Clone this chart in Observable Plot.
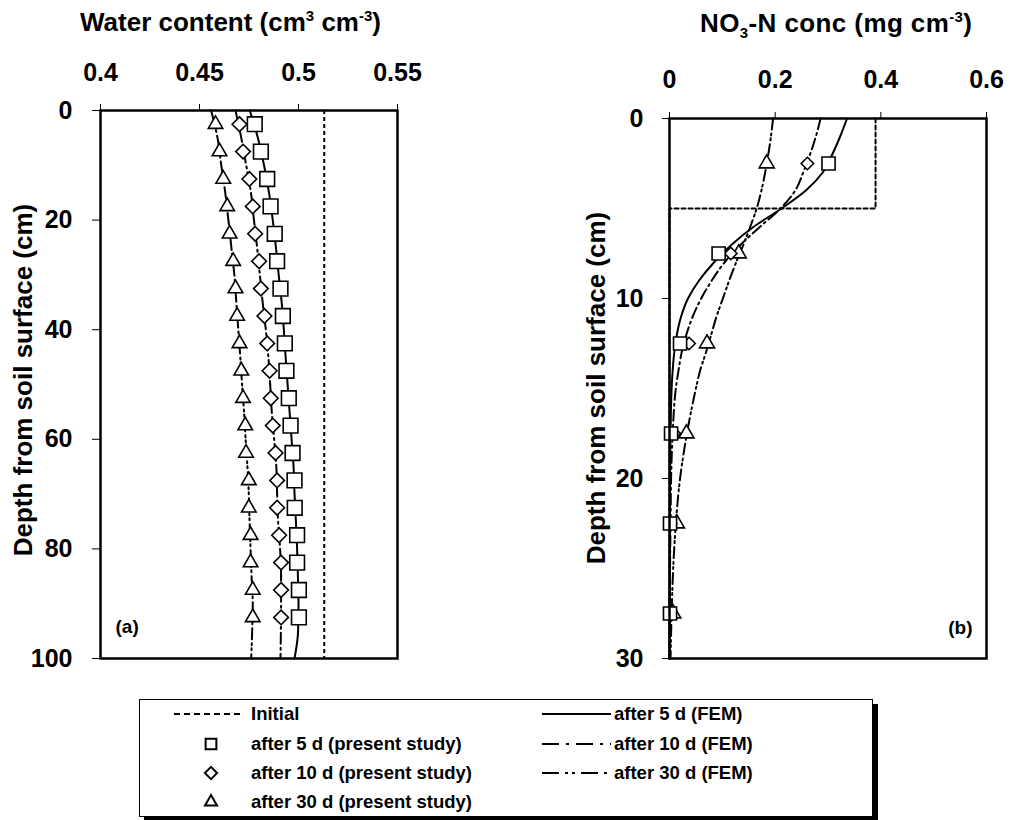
<!DOCTYPE html>
<html>
<head>
<meta charset="utf-8">
<script src="https://cdn.jsdelivr.net/npm/d3@7"></script>
<script src="https://cdn.jsdelivr.net/npm/@observablehq/plot@0.6"></script>
<style>
  body { margin: 0; background: #fff; }
  #wrap { position: relative; width: 1011px; height: 820px; background: #fff; font-family: "Liberation Sans", Arial, sans-serif; font-weight: bold; color: #000; overflow: hidden; }
  .abs { position: absolute; white-space: nowrap; line-height: 1; }
  .title { font-size: 26px; }
  .title sup, .title sub { font-size: 15px; line-height: 0; }
  .ytitle { font-size: 26px; transform: translate(-50%, -50%) rotate(-90deg); }
  #legend { position: absolute; left: 139px; top: 699px; width: 732px; height: 116px; border: 1px solid #000; box-shadow: 5px 5px 0 #000; background: #fff; font-size: 18.5px; }
  #legend .lt { position: absolute; transform: translateY(-50%); white-space: nowrap; line-height: 1; }
  #legend svg { position: absolute; overflow: visible; }
</style>
</head>
<body>
<div id="wrap">
  <div id="plotA" class="abs" style="left:0; top:0;"></div>
  <div id="plotB" class="abs" style="left:560px; top:0;"></div>
  <div class="abs title" style="left:80px; top:9px;">Water content (cm<sup>3</sup> cm<sup>-3</sup>)</div>
  <div class="abs title" style="left:700px; top:10px; letter-spacing:0.4px;">NO<sub>3</sub>-N conc (mg cm<sup>-3</sup>)</div>
  <div class="abs ytitle" style="left:23px; top:380px;">Depth from soil surface (cm)</div>
  <div class="abs ytitle" style="left:596px; top:388px;">Depth from soil surface (cm)</div>
  <div id="legend"></div>
</div>
<script>
// ---------- Panel (a): water content ----------
const waterTicks = [0.4, 0.45, 0.5, 0.55];
const depthTicksA = [0, 20, 40, 60, 80, 100];
const initWater = 0.513;
const depthA = [2.5, 7.5, 12.5, 17.5, 22.5, 27.5, 32.5, 37.5, 42.5, 47.5, 52.5, 57.5, 62.5, 67.5, 72.5, 77.5, 82.5, 87.5, 92.5];
const sq5A  = [0.4779, 0.4810, 0.4842, 0.4859, 0.4880, 0.4892, 0.4909, 0.4921, 0.4931, 0.4939, 0.4951, 0.4960, 0.4970, 0.4980, 0.4981, 0.4993, 0.4993, 0.5002, 0.5002];
const dia10A = [0.4702, 0.4720, 0.4752, 0.4769, 0.4781, 0.4801, 0.4810, 0.4828, 0.4842, 0.4854, 0.4860, 0.4870, 0.4884, 0.4892, 0.4892, 0.4902, 0.4912, 0.4912, 0.4912];
const tri30A = [0.4581, 0.4601, 0.4620, 0.4640, 0.4652, 0.4670, 0.4682, 0.4690, 0.4702, 0.4711, 0.4720, 0.4731, 0.4735, 0.4749, 0.4749, 0.4758, 0.4758, 0.4769, 0.4769];
const femDepthA = [0, 5, 10, 15, 20, 25, 30, 35, 40, 45, 50, 55, 60, 65, 70, 75, 80, 85, 90, 95, 100];
const fem5A  = [0.4754, 0.4795, 0.4826, 0.4851, 0.4870, 0.4886, 0.4900, 0.4915, 0.4926, 0.4935, 0.4945, 0.4955, 0.4965, 0.4975, 0.4980, 0.4987, 0.4993, 0.4997, 0.5000, 0.4998, 0.4980];
const fem10A = [0.4682, 0.4711, 0.4736, 0.4760, 0.4775, 0.4791, 0.4805, 0.4819, 0.4835, 0.4848, 0.4857, 0.4865, 0.4877, 0.4888, 0.4892, 0.4897, 0.4907, 0.4912, 0.4912, 0.4911, 0.4909];
const fem30A = [0.4559, 0.4591, 0.4610, 0.4630, 0.4646, 0.4661, 0.4676, 0.4686, 0.4696, 0.4706, 0.4715, 0.4725, 0.4733, 0.4742, 0.4749, 0.4753, 0.4758, 0.4763, 0.4769, 0.4766, 0.4761];

// ---------- Panel (b): NO3-N concentration ----------
const concTicks = [0, 0.2, 0.4, 0.6];
const depthTicksB = [0, 10, 20, 30];
const initConc = [0.39, 0.39, 0, 0];
const initDepthB = [0, 5, 5, 30];
const depthB = [2.5, 7.5, 12.5, 17.5, 22.5, 27.5];
const sq5B   = [0.301, 0.093, 0.020, 0.003, 0.001, 0.001];
const dia10B = [0.261, 0.116, 0.037, 0.009, 0.002, 0.001];
const tri30B = [0.184, 0.131, 0.071, 0.032, 0.014, 0.007];
const femDepthB = [0, 1, 2, 3, 4, 5, 6, 7, 8, 9, 10, 11, 12, 13, 14, 15, 17.5, 20, 22.5, 25, 27.5, 30];
const fem5B  = [0.336, 0.323, 0.308, 0.290, 0.258, 0.212, 0.160, 0.118, 0.084, 0.056, 0.035, 0.022, 0.014, 0.009, 0.006, 0.004, 0.002, 0.001, 0.001, 0.0005, 0.0003, 0];
const fem10B = [0.286, 0.277, 0.266, 0.253, 0.238, 0.210, 0.172, 0.135, 0.104, 0.080, 0.060, 0.044, 0.032, 0.023, 0.017, 0.012, 0.006, 0.003, 0.002, 0.001, 0.0005, 0];
const fem30B = [0.196, 0.192, 0.187, 0.181, 0.174, 0.165, 0.153, 0.140, 0.126, 0.113, 0.101, 0.089, 0.079, 0.069, 0.058, 0.050, 0.033, 0.020, 0.012, 0.007, 0.004, 0.002];

// legend entries
const legendLeft = ["Initial", "after 5 d (present study)", "after 10 d (present study)", "after 30 d (present study)"];
const legendRight = ["after 5 d (FEM)", "after 10 d (FEM)", "after 30 d (FEM)"];

const DASH_INIT = "4,3";
const DASH_10 = "11,4,2,4";
const DASH_30 = "11,4,2,3,2,4";
const FONT = "'Liberation Sans', Arial, sans-serif";

const pts = (ds, vs) => ds.map((d, i) => ({d, v: vs[i]}));

function markerMarks(depths, sq, dia, tri, rs) {
  return [
    Plot.dot(pts(depths, tri), {x: "v", y: "d", symbol: "triangle", r: rs[2], fill: "white", stroke: "black", strokeWidth: 1.6}),
    Plot.dot(pts(depths, dia), {x: "v", y: "d", symbol: "diamond2", r: rs[1], fill: "white", stroke: "black", strokeWidth: 1.6}),
    Plot.dot(pts(depths, sq), {x: "v", y: "d", symbol: "square", r: rs[0], fill: "white", stroke: "black", strokeWidth: 1.6})
  ];
}

const plotA = Plot.plot({
  width: 440, height: 680,
  marginLeft: 100, marginRight: 43, marginTop: 110, marginBottom: 22,
  style: {fontFamily: FONT, fontWeight: "bold", fontSize: "25px", background: "transparent"},
  x: {domain: [0.4, 0.55]},
  y: {domain: [0, 100], reverse: true},
  marks: [
    Plot.axisX({anchor: "top", ticks: waterTicks, tickFormat: d => String(d), tickSize: 7, tickPadding: 23, fontSize: 25, fontWeight: "bold", label: null}),
    Plot.axisY({anchor: "left", ticks: depthTicksA, tickFormat: d => String(d), tickSize: 8, tickPadding: 20, fontSize: 25, fontWeight: "bold", label: null}),
    Plot.ruleX([initWater], {y1: 0, y2: 100, stroke: "black", strokeWidth: 2, strokeDasharray: DASH_INIT}),
    Plot.line(pts(femDepthA, fem5A), {x: "v", y: "d", curve: "monotone-y", stroke: "black", strokeWidth: 2}),
    Plot.line(pts(femDepthA, fem10A), {x: "v", y: "d", curve: "monotone-y", stroke: "black", strokeWidth: 2, strokeDasharray: DASH_10}),
    Plot.line(pts(femDepthA, fem30A), {x: "v", y: "d", curve: "monotone-y", stroke: "black", strokeWidth: 2, strokeDasharray: DASH_30}),
    ...markerMarks(depthA, sq5A, dia10A, tri30A, [8.3, 6.6, 5.4]),
    Plot.text(["(a)"], {frameAnchor: "bottom-left", dx: 15, dy: -26, fontSize: 19, fontWeight: "bold", textAnchor: "start"}),
    Plot.frame({stroke: "black", strokeWidth: 2.5})
  ]
});
document.getElementById("plotA").appendChild(plotA);

const plotB = Plot.plot({
  width: 451, height: 680,
  marginLeft: 109, marginRight: 25, marginTop: 118, marginBottom: 22,
  style: {fontFamily: FONT, fontWeight: "bold", fontSize: "25px", background: "transparent"},
  x: {domain: [0, 0.6]},
  y: {domain: [0, 30], reverse: true},
  marks: [
    Plot.axisX({anchor: "top", ticks: concTicks, tickFormat: d => String(d), tickSize: 7, tickPadding: 24, fontSize: 25, fontWeight: "bold", label: null}),
    Plot.axisY({anchor: "left", ticks: depthTicksB, tickFormat: d => String(d), tickSize: 7, tickPadding: 19, fontSize: 25, fontWeight: "bold", label: null}),
    Plot.line(pts(initDepthB, initConc), {x: "v", y: "d", stroke: "black", strokeWidth: 2, strokeDasharray: DASH_INIT}),
    Plot.line(pts(femDepthB, fem5B), {x: "v", y: "d", curve: "monotone-y", stroke: "black", strokeWidth: 2}),
    Plot.line(pts(femDepthB, fem10B), {x: "v", y: "d", curve: "monotone-y", stroke: "black", strokeWidth: 2, strokeDasharray: DASH_10}),
    Plot.line(pts(femDepthB, fem30B), {x: "v", y: "d", curve: "monotone-y", stroke: "black", strokeWidth: 2, strokeDasharray: DASH_30}),
    ...markerMarks(depthB, sq5B, dia10B, tri30B, [7.4, 5.6, 5.6]),
    Plot.text(["(b)"], {frameAnchor: "bottom-right", dx: -14, dy: -25, fontSize: 19, fontWeight: "bold", textAnchor: "end"}),
    Plot.frame({stroke: "black", strokeWidth: 2.5})
  ]
});
document.getElementById("plotB").appendChild(plotB);

// ---------- Legend ----------
const leg = document.getElementById("legend");
const rowY = [14, 44, 73, 102];
const legendSymbols = [null, d3.symbolSquare, d3.symbolDiamond2, d3.symbolTriangle];
const legendSymbolSizes = [0, 115, 95, 62];
const ns = "http://www.w3.org/2000/svg";
function sample(left, top, dash) {
  const s = document.createElementNS(ns, "svg");
  s.setAttribute("width", 69); s.setAttribute("height", 6);
  s.style.left = left + "px"; s.style.top = (top - 3) + "px";
  const l = document.createElementNS(ns, "line");
  l.setAttribute("x1", 0); l.setAttribute("x2", 69); l.setAttribute("y1", 3); l.setAttribute("y2", 3);
  l.setAttribute("stroke", "black"); l.setAttribute("stroke-width", 2);
  if (dash) l.setAttribute("stroke-dasharray", dash);
  s.appendChild(l);
  leg.appendChild(s);
}
function symbolGlyph(symbol, size, cx, cy) {
  const s = document.createElementNS(ns, "svg");
  s.setAttribute("width", 20); s.setAttribute("height", 20);
  s.style.left = (cx - 10) + "px"; s.style.top = (cy - 10) + "px";
  const p = document.createElementNS(ns, "path");
  p.setAttribute("d", d3.symbol(symbol, size)());
  p.setAttribute("transform", "translate(10,10)");
  p.setAttribute("fill", "white"); p.setAttribute("stroke", "black"); p.setAttribute("stroke-width", 2);
  s.appendChild(p);
  leg.appendChild(s);
}
function label(text, left, top) {
  const d = document.createElement("div");
  d.className = "lt"; d.textContent = text;
  d.style.left = left + "px"; d.style.top = top + "px";
  leg.appendChild(d);
}
legendLeft.forEach((t, i) => {
  if (i === 0) sample(34, rowY[i], "6,4");
  else symbolGlyph(legendSymbols[i], legendSymbolSizes[i], 71, rowY[i]);
  label(t, 111, rowY[i]);
});
const rightDash = [null, "17,7,3,7", "17,6,3,4,3,6"];
legendRight.forEach((t, i) => {
  sample(402, rowY[i], rightDash[i]);
  label(t, 474, rowY[i]);
});
</script>
</body>
</html>
